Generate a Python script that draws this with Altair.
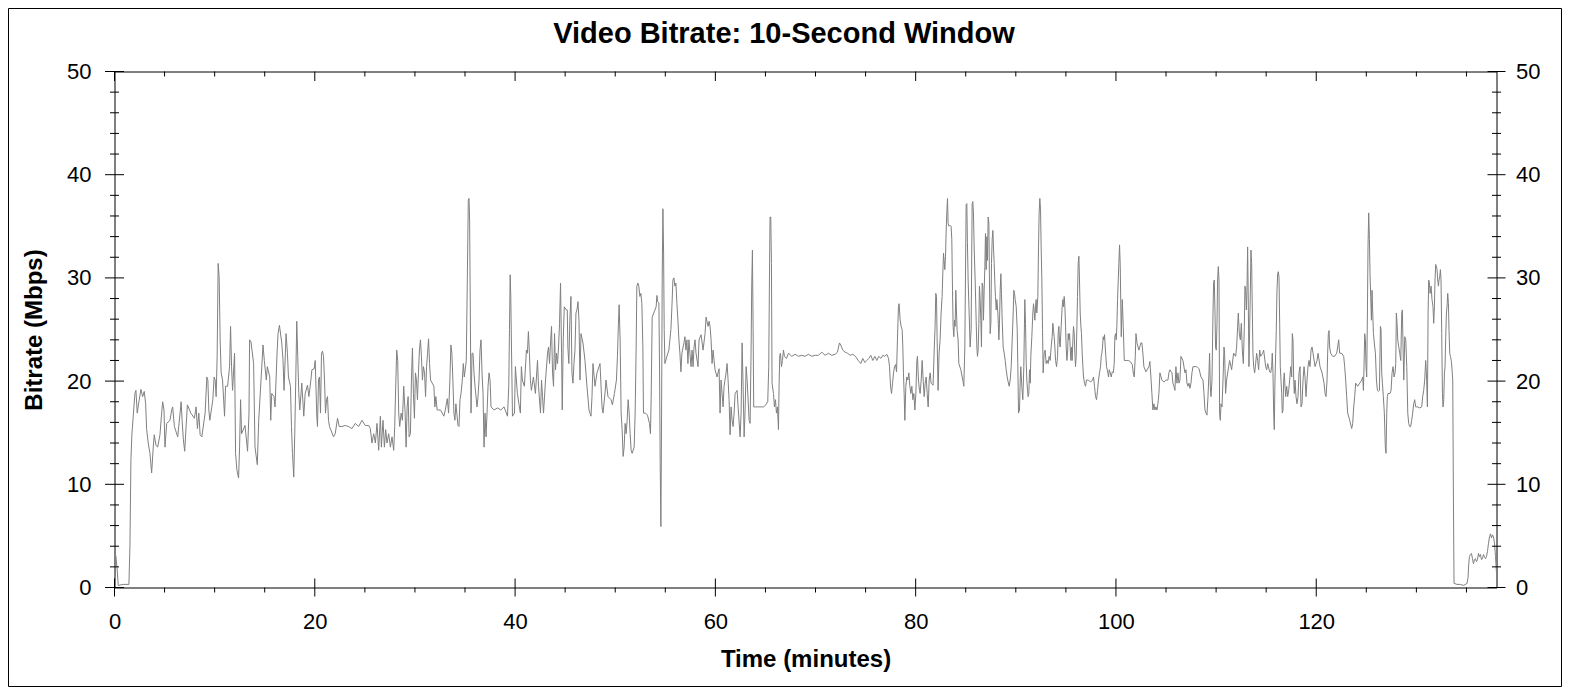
import altair as alt
import pandas as pd

# (minutes, Mbps), one list per 20-minute stretch
seg_00_20 = [
    (0.0, 3.1), (0.13, 3.1), (0.27, 1.7), (0.37, 0.2), (0.87, 0.3), (1.44, 0.3), (1.54, 4.0),
    (1.64, 12.4), (1.74, 14.9), (1.87, 16.6), (2.04, 18.8), (2.14, 19.1), (2.27, 16.9), (2.44, 18.0),
    (2.64, 19.2), (2.81, 18.5), (2.97, 19.0), (3.11, 17.8), (3.21, 15.3), (3.37, 14.0), (3.54, 13.0),
    (3.71, 11.1), (3.87, 13.6), (3.97, 14.8), (4.14, 13.8), (4.31, 13.6), (4.54, 14.8), (4.71, 16.9),
    (4.81, 18.0), (4.94, 17.2), (5.04, 13.6), (5.21, 15.9), (5.54, 16.2), (5.71, 17.2), (5.81, 17.5),
    (5.98, 15.6), (6.31, 14.6), (6.55, 16.9), (6.65, 18.0), (6.75, 16.2), (6.88, 14.3), (7.01, 13.2),
    (7.15, 15.6), (7.28, 17.7), (7.62, 16.9), (7.98, 16.4), (8.15, 17.5), (8.28, 15.4), (8.42, 16.9),
    (8.55, 14.8), (8.72, 14.6), (9.05, 16.9), (9.22, 20.4), (9.32, 20.1), (9.42, 17.2), (9.52, 16.2),
    (9.82, 18.2), (9.95, 20.4), (10.05, 20.1), (10.15, 18.5), (10.25, 22.4), (10.35, 31.4), (10.45, 30.1),
    (10.55, 24.0), (10.65, 20.8), (10.79, 20.1), (10.99, 16.6), (11.09, 19.5), (11.29, 19.5), (11.49, 21.4),
    (11.59, 25.3), (11.69, 21.4), (11.79, 19.1), (11.99, 22.7), (12.09, 13.0), (12.22, 11.4), (12.39, 10.6),
    (12.49, 13.6), (12.59, 18.2), (12.69, 14.9), (13.03, 15.7), (13.29, 13.2), (13.43, 16.9), (13.49, 24.0),
    (13.63, 23.8), (13.89, 21.7), (14.03, 13.6), (14.26, 11.9), (14.40, 16.2), (14.63, 20.1), (14.83, 23.5),
    (14.96, 22.0), (15.16, 20.1), (15.26, 21.4), (15.50, 20.4), (15.60, 16.2), (15.70, 18.8), (15.93, 18.5),
    (16.03, 17.5), (16.23, 22.7), (16.33, 24.6), (16.47, 25.4), (16.70, 23.7), (16.83, 22.0), (16.93, 19.1),
    (17.13, 24.6), (17.27, 22.7), (17.37, 20.4), (17.57, 19.5), (17.67, 15.6), (17.77, 13.0), (17.90, 10.7),
    (18.00, 14.9), (18.10, 20.1), (18.20, 25.8), (18.30, 22.4), (18.40, 18.8), (18.50, 17.2), (18.70, 19.8),
    (18.90, 16.6), (19.04, 18.8), (19.27, 19.6), (19.41, 18.5), (19.61, 20.1), (19.71, 21.1), (19.94, 21.2),
    (20.04, 22.0),
]

seg_20_40 = [
    (20.20, 16.6), (20.27, 15.6), (20.37, 20.1), (20.47, 20.4), (20.57, 16.9), (20.67, 22.7), (20.77, 22.9),
    (20.87, 22.4), (20.97, 20.1), (21.07, 16.9), (21.17, 18.2), (21.27, 18.5), (21.37, 16.2), (21.47, 15.6),
    (21.87, 14.6), (22.04, 14.9), (22.27, 16.4), (22.44, 15.6), (22.71, 15.6), (23.04, 15.7), (23.37, 15.6),
    (23.71, 15.4), (24.04, 15.9), (24.38, 15.6), (24.71, 16.2), (25.04, 15.7), (25.38, 15.7), (25.54, 15.4),
    (25.71, 14.0), (25.88, 14.9), (26.05, 14.0), (26.21, 15.9), (26.38, 13.3), (26.55, 16.6), (26.65, 13.6),
    (26.81, 16.2), (26.95, 13.6), (27.08, 15.3), (27.21, 14.0), (27.38, 14.9), (27.55, 13.6), (27.71, 14.6),
    (27.88, 13.3), (27.98, 15.6), (28.08, 19.5), (28.18, 23.0), (28.28, 22.0), (28.38, 16.9), (28.48, 15.6),
    (28.62, 16.9), (28.75, 16.2), (28.88, 19.5), (29.02, 16.9), (29.12, 13.6), (29.22, 17.5), (29.32, 18.5),
    (29.42, 14.6), (29.55, 14.9), (29.65, 20.1), (29.75, 23.2), (29.85, 18.8), (29.95, 16.4), (30.05, 20.8),
    (30.15, 20.1), (30.25, 18.2), (30.35, 20.8), (30.45, 23.0), (30.55, 24.0), (30.65, 22.4), (30.75, 20.1),
    (30.85, 21.4), (30.96, 20.8), (31.06, 18.5), (31.16, 21.4), (31.26, 22.7), (31.36, 24.1), (31.46, 21.7),
    (31.56, 20.1), (31.89, 19.5), (31.99, 17.5), (32.09, 18.5), (32.22, 17.2), (32.56, 17.2), (32.89, 16.6),
    (33.03, 17.2), (33.23, 18.3), (33.36, 16.9), (33.49, 20.1), (33.59, 23.5), (33.69, 22.7), (33.79, 20.1),
    (33.89, 16.9), (33.99, 16.2), (34.09, 17.8), (34.30, 15.7), (34.40, 15.6), (34.50, 18.2), (34.60, 18.8),
    (34.73, 20.1), (34.83, 21.7), (34.93, 20.4), (35.13, 22.0), (35.23, 29.8), (35.33, 37.5), (35.40, 37.7),
    (35.46, 35.6), (35.53, 26.6), (35.60, 16.9), (35.70, 22.7), (35.80, 22.7), (35.90, 20.8), (36.00, 19.5),
    (36.20, 17.5), (36.30, 18.5), (36.40, 20.1), (36.50, 23.0), (36.60, 24.0), (36.70, 20.8), (36.80, 18.8),
    (36.90, 13.6), (37.00, 16.9), (37.10, 14.6), (37.20, 16.9), (37.30, 19.5), (37.40, 20.8), (37.50, 20.1),
    (37.60, 17.5), (37.90, 17.2), (38.24, 17.4), (38.57, 17.2), (38.90, 17.5), (39.24, 16.6), (39.37, 19.5),
    (39.44, 25.0), (39.51, 30.3), (39.57, 28.2), (39.64, 23.3), (39.74, 16.6), (39.94, 16.9),
]

seg_40_60 = [
    (40.03, 21.4), (40.23, 18.8), (40.43, 17.5), (40.53, 16.9), (40.63, 21.4), (40.73, 20.1), (40.93, 19.5),
    (41.13, 23.0), (41.23, 22.7), (41.33, 24.8), (41.43, 22.7), (41.53, 20.1), (41.63, 19.1), (41.83, 20.4),
    (42.03, 18.8), (42.24, 22.0), (42.34, 19.5), (42.54, 16.9), (42.64, 20.1), (42.74, 18.5), (42.84, 16.9),
    (43.04, 20.1), (43.24, 22.7), (43.34, 23.3), (43.44, 21.7), (43.54, 23.7), (43.64, 25.3), (43.74, 20.8),
    (43.84, 19.5), (43.94, 24.6), (44.04, 21.1), (44.14, 22.7), (44.24, 21.7), (44.34, 23.3), (44.44, 25.6),
    (44.54, 29.5), (44.64, 22.7), (44.71, 17.2), (44.81, 24.0), (44.91, 27.2), (45.11, 26.9), (45.21, 26.9),
    (45.27, 23.3), (45.37, 21.7), (45.47, 25.9), (45.58, 28.2), (45.68, 20.8), (45.78, 19.8), (45.88, 21.7),
    (45.98, 23.0), (46.08, 26.6), (46.18, 26.9), (46.28, 27.7), (46.38, 25.9), (46.48, 20.1), (46.58, 24.6),
    (46.78, 23.7), (46.98, 22.0), (47.18, 19.5), (47.38, 17.2), (47.58, 16.6), (47.68, 18.5), (47.78, 21.7),
    (47.98, 19.5), (48.18, 20.8), (48.48, 21.7), (48.68, 17.5), (48.78, 16.9), (48.98, 18.8), (49.08, 20.1),
    (49.28, 18.5), (49.58, 18.2), (49.72, 17.7), (49.92, 18.8), (50.12, 20.1), (50.22, 22.4), (50.32, 25.6),
    (50.39, 27.4), (50.49, 24.0), (50.59, 16.9), (50.69, 15.3), (50.79, 12.7), (50.89, 13.6), (50.99, 15.9),
    (51.09, 14.9), (51.19, 16.2), (51.29, 18.2), (51.39, 16.9), (51.49, 14.9), (51.59, 13.3), (51.69, 13.0),
    (51.89, 13.6), (51.99, 16.9), (52.09, 23.3), (52.16, 29.2), (52.26, 29.5), (52.36, 29.2), (52.46, 28.2),
    (52.56, 28.5), (52.66, 27.5), (52.76, 23.3), (52.82, 16.9), (53.02, 16.9), (53.22, 16.7), (53.42, 15.9),
    (53.52, 14.9), (53.59, 18.5), (53.69, 26.2), (53.89, 26.7), (54.09, 27.2), (54.16, 28.3), (54.23, 27.7),
    (54.36, 27.6), (54.43, 20.8), (54.49, 12.0), (54.56, 5.9), (54.63, 16.9), (54.69, 29.8), (54.76, 36.7),
    (54.83, 32.4), (54.89, 25.0), (54.96, 21.7), (55.16, 22.4), (55.36, 23.0), (55.56, 25.0), (55.66, 27.2),
    (55.76, 29.8), (55.86, 30.0), (55.96, 29.2), (56.06, 29.5), (56.16, 27.5), (56.26, 25.9), (56.36, 24.0),
    (56.46, 22.7), (56.56, 20.9), (56.66, 22.7), (56.86, 23.7), (56.96, 24.3), (57.06, 23.0), (57.16, 24.0),
    (57.26, 21.7), (57.36, 24.0), (57.46, 22.7), (57.57, 21.4), (57.67, 23.0), (57.77, 21.4), (57.87, 23.3),
    (57.97, 24.0), (58.07, 22.7), (58.27, 21.4), (58.37, 24.0), (58.57, 24.5), (58.77, 23.0), (58.97, 24.6),
    (59.07, 26.2), (59.27, 25.3), (59.37, 25.8), (59.47, 25.3), (59.57, 24.0), (59.67, 21.7), (59.77, 23.0),
    (59.87, 22.0), (59.97, 21.1), (60.17, 20.4), (60.37, 21.2),
]

seg_60_80 = [
    (60.47, 16.9), (60.57, 20.1), (60.77, 17.5), (60.87, 19.5), (61.07, 20.8), (61.17, 21.7), (61.27, 20.1),
    (61.37, 18.2), (61.47, 14.8), (61.57, 17.5), (61.67, 16.2), (61.77, 15.6), (61.87, 16.9), (61.97, 18.8),
    (62.17, 19.1), (62.27, 17.5), (62.47, 14.6), (62.57, 16.9), (62.67, 23.7), (62.77, 19.5), (62.87, 14.6),
    (62.97, 17.2), (63.07, 21.4), (63.17, 20.1), (63.37, 16.2), (63.47, 15.9), (63.57, 23.3), (63.63, 29.2),
    (63.70, 32.7), (63.77, 25.0), (63.83, 17.5), (64.03, 17.5), (64.23, 17.5), (64.43, 17.5), (64.63, 17.5),
    (64.83, 17.5), (65.03, 17.7), (65.23, 18.0), (65.33, 21.4), (65.40, 29.8), (65.46, 35.9), (65.53, 35.9),
    (65.60, 31.4), (65.66, 19.8), (65.80, 18.8), (65.90, 17.5), (66.00, 18.2), (66.10, 16.9), (66.20, 17.5),
    (66.30, 15.3), (66.36, 19.5), (66.43, 22.5), (66.50, 22.7), (66.60, 21.4), (66.70, 22.0), (66.80, 23.0),
    (66.90, 22.4), (67.10, 22.2), (67.30, 22.7), (67.63, 22.4), (67.96, 22.6), (68.29, 22.4), (68.63, 22.5),
    (68.96, 22.4), (69.29, 22.6), (69.63, 22.4), (69.96, 22.5), (70.29, 22.5), (70.63, 22.8), (70.96, 22.5),
    (71.29, 22.7), (71.62, 22.5), (71.96, 22.6), (72.19, 22.8), (72.39, 23.7), (72.52, 23.5), (72.72, 23.0),
    (72.96, 22.8), (73.19, 22.7), (73.46, 22.5), (73.72, 22.6), (73.99, 22.4), (74.26, 22.0), (74.52, 21.7),
    (74.72, 22.2), (74.92, 21.8), (75.12, 22.0), (75.32, 22.2), (75.52, 22.5), (75.72, 22.0), (75.92, 22.4),
    (76.12, 22.0), (76.32, 22.4), (76.52, 22.2), (76.72, 22.5), (76.92, 22.4), (77.12, 22.6), (77.29, 22.2),
    (77.39, 21.4), (77.49, 19.5), (77.59, 18.8), (77.69, 19.8), (77.79, 20.8), (77.89, 21.4), (77.99, 21.6),
    (78.09, 20.9), (78.18, 24.0), (78.28, 27.2), (78.35, 27.5), (78.45, 25.9), (78.55, 25.3), (78.65, 25.0),
    (78.72, 23.3), (78.78, 20.8), (78.85, 18.8), (78.92, 16.2), (79.02, 19.5), (79.12, 20.4), (79.22, 20.1),
    (79.32, 20.8), (79.42, 19.5), (79.52, 18.8), (79.62, 19.5), (79.72, 18.2), (79.82, 18.8), (79.92, 17.2),
    (80.02, 18.8), (80.12, 22.0), (80.18, 22.4), (80.28, 20.1), (80.38, 19.1),
]

seg_80_100 = [
    (80.45, 18.8), (80.55, 20.1), (80.65, 22.0), (80.75, 20.1), (80.85, 18.5), (80.95, 19.8), (81.05, 20.4),
    (81.15, 18.8), (81.25, 17.5), (81.35, 20.1), (81.45, 20.8), (81.54, 19.8), (81.74, 19.6), (81.84, 22.7),
    (81.94, 25.3), (82.01, 28.5), (82.08, 28.2), (82.14, 24.3), (82.24, 19.1), (82.34, 22.7), (82.44, 24.0),
    (82.54, 26.6), (82.64, 28.2), (82.71, 30.4), (82.78, 32.4), (82.84, 31.7), (82.91, 30.8), (82.98, 32.1),
    (83.04, 34.3), (83.11, 36.3), (83.18, 37.7), (83.24, 35.3), (83.34, 35.0), (83.44, 35.1), (83.54, 35.0),
    (83.61, 33.7), (83.68, 28.8), (83.74, 25.3), (83.81, 24.3), (83.88, 25.9), (83.94, 25.3), (84.01, 28.8),
    (84.08, 26.6), (84.14, 24.9), (84.24, 24.0), (84.31, 21.7), (84.51, 21.1), (84.71, 20.1), (84.81, 19.5),
    (84.91, 23.3), (84.97, 29.8), (85.04, 37.1), (85.11, 37.2), (85.17, 33.4), (85.24, 29.8), (85.34, 26.6),
    (85.44, 23.3), (85.54, 25.0), (85.64, 37.2), (85.71, 37.4), (85.77, 36.3), (85.84, 33.0), (85.94, 29.8),
    (86.04, 25.9), (86.11, 23.3), (86.17, 22.4), (86.24, 23.0), (86.31, 25.6), (86.37, 29.2), (86.44, 27.9),
    (86.51, 25.9), (86.57, 23.3), (86.64, 29.5), (86.71, 29.2), (86.77, 25.9), (86.84, 28.8), (86.91, 31.1),
    (86.97, 34.3), (87.04, 30.8), (87.11, 34.0), (87.17, 31.7), (87.24, 35.9), (87.31, 35.3), (87.37, 29.8),
    (87.44, 24.6), (87.51, 25.6), (87.57, 31.4), (87.64, 33.7), (87.71, 34.6), (87.77, 33.0), (87.84, 31.4),
    (87.91, 29.5), (87.97, 28.2), (88.04, 26.9), (88.11, 27.9), (88.21, 26.6), (88.31, 24.0), (88.37, 25.6),
    (88.44, 28.8), (88.51, 30.4), (88.57, 28.5), (88.64, 25.9), (88.74, 23.3), (88.84, 22.7), (88.94, 22.0),
    (89.04, 21.1), (89.14, 20.4), (89.24, 19.9), (89.34, 19.5), (89.44, 20.1), (89.54, 21.4), (89.64, 24.0),
    (89.74, 26.6), (89.80, 28.8), (89.87, 28.5), (89.94, 27.9), (90.04, 27.2), (90.14, 25.0), (90.20, 21.7),
    (90.27, 16.9), (90.37, 17.2), (90.44, 20.1), (90.50, 21.4), (90.60, 19.5), (90.70, 18.2), (90.80, 21.4),
    (90.90, 27.9), (90.97, 25.6), (91.04, 21.7), (91.10, 20.1), (91.17, 19.1), (91.23, 18.5), (91.30, 18.8),
    (91.37, 21.1), (91.44, 19.8), (91.50, 22.4), (91.60, 24.3), (91.70, 26.6), (91.77, 27.5), (91.83, 26.9),
    (91.90, 25.9), (91.97, 27.2), (92.03, 27.9), (92.10, 26.6), (92.20, 28.2), (92.27, 33.0), (92.33, 36.3),
    (92.40, 37.7), (92.47, 36.6), (92.53, 33.0), (92.60, 29.8), (92.67, 25.0), (92.73, 20.8), (92.83, 22.7),
    (92.93, 23.0), (93.03, 21.7), (93.13, 22.0), (93.23, 21.7), (93.33, 22.4), (93.43, 22.0), (93.53, 23.3),
    (93.63, 24.3), (93.70, 25.6), (93.77, 24.9), (93.83, 24.3), (93.90, 23.3), (93.97, 22.0), (94.07, 21.4),
    (94.17, 22.4), (94.23, 24.6), (94.30, 25.3), (94.37, 23.7), (94.43, 23.3), (94.53, 25.3), (94.63, 27.2),
    (94.70, 27.9), (94.77, 27.2), (94.83, 28.2), (94.90, 27.2), (94.97, 25.3), (95.03, 23.3), (95.10, 22.0),
    (95.17, 22.7), (95.23, 24.6), (95.30, 24.0), (95.37, 24.6), (95.43, 23.3), (95.50, 22.0), (95.56, 23.3),
    (95.63, 22.0), (95.70, 24.0), (95.76, 25.3), (95.83, 24.6), (95.90, 22.7), (95.96, 21.4), (96.03, 22.4),
    (96.10, 25.3), (96.16, 28.2), (96.23, 31.4), (96.30, 32.1), (96.36, 29.8), (96.43, 26.6), (96.50, 25.3),
    (96.56, 24.6), (96.63, 22.7), (96.70, 21.4), (96.76, 20.4), (96.86, 19.8), (96.96, 19.5), (97.06, 20.1),
    (97.26, 20.1), (97.46, 19.9), (97.66, 20.1), (97.76, 20.4), (97.86, 19.5), (97.96, 18.5), (98.06, 18.2),
    (98.16, 19.1), (98.26, 20.1), (98.36, 20.8), (98.46, 21.4), (98.53, 22.4), (98.59, 22.7), (98.66, 23.3),
    (98.73, 24.3), (98.79, 24.0), (98.86, 24.5), (98.93, 23.3), (98.99, 22.4), (99.06, 21.4), (99.13, 21.1),
    (99.19, 20.8), (99.26, 20.4), (99.33, 21.1), (99.43, 20.8), (99.53, 20.4), (99.63, 20.9), (99.73, 20.8),
    (99.83, 21.7), (99.89, 24.3), (99.96, 24.6), (100.03, 24.0), (100.09, 25.3), (100.16, 27.9), (100.23, 29.8),
    (100.29, 31.4), (100.36, 33.2), (100.43, 31.1),
]

seg_100_120 = [
    (100.53, 24.3), (100.63, 27.9), (100.73, 25.3), (100.83, 22.0), (101.03, 22.0), (101.23, 22.0),
    (101.43, 21.9), (101.63, 21.6), (101.73, 20.8), (101.83, 20.4), (101.93, 22.4), (102.00, 24.6),
    (102.10, 23.7), (102.29, 23.0), (102.49, 23.7), (102.59, 23.7), (102.69, 22.7), (102.79, 21.4),
    (102.99, 20.9), (103.29, 21.4), (103.39, 21.9), (103.49, 20.4), (103.59, 18.8), (103.69, 17.2),
    (103.79, 17.8), (103.89, 17.2), (103.99, 17.5), (104.09, 17.2), (104.19, 17.8), (104.29, 18.8),
    (104.39, 20.8), (104.59, 20.1), (104.79, 19.9), (104.99, 20.1), (105.19, 20.1), (105.29, 20.8),
    (105.39, 21.1), (105.59, 20.8), (105.69, 19.8), (105.79, 19.5), (105.89, 19.1), (105.99, 21.4),
    (106.09, 19.8), (106.19, 20.8), (106.29, 19.8), (106.39, 20.1), (106.49, 22.4), (106.69, 22.0),
    (106.89, 20.8), (106.99, 21.1), (107.09, 19.8), (107.19, 19.5), (107.29, 19.8), (107.39, 19.3),
    (107.49, 19.8), (107.59, 20.8), (107.69, 21.4), (107.89, 21.4), (108.09, 21.4), (108.29, 21.2),
    (108.49, 20.4), (108.69, 20.1), (108.79, 18.8), (108.89, 17.2), (108.99, 16.9), (109.09, 16.7),
    (109.19, 18.5), (109.29, 20.8), (109.35, 22.7), (109.42, 19.5), (109.49, 18.5), (109.59, 20.1),
    (109.69, 26.6), (109.75, 29.5), (109.82, 29.8), (109.89, 26.6), (109.95, 23.3), (110.02, 23.0),
    (110.09, 25.6), (110.15, 29.8), (110.22, 31.1), (110.29, 29.8), (110.35, 16.9), (110.42, 16.2),
    (110.49, 17.8), (110.59, 17.5), (110.69, 20.1), (110.79, 23.3), (110.85, 22.7), (110.95, 18.8),
    (111.05, 20.1), (111.25, 21.4), (111.35, 22.0), (111.55, 21.1), (111.75, 22.7), (111.95, 22.4),
    (112.05, 23.3), (112.15, 25.3), (112.22, 26.6), (112.32, 24.6), (112.42, 24.0), (112.52, 25.6),
    (112.62, 23.0), (112.72, 21.7), (112.82, 25.3), (112.88, 29.2), (112.95, 28.8), (113.02, 26.9),
    (113.08, 28.8), (113.15, 33.0), (113.22, 27.2), (113.28, 21.4), (113.35, 25.0), (113.42, 28.8),
    (113.48, 32.7), (113.55, 31.4), (113.62, 26.6), (113.68, 22.7), (113.75, 21.4), (113.85, 20.8),
    (113.95, 21.7), (114.05, 22.7), (114.15, 22.0), (114.25, 21.1), (114.35, 23.0), (114.45, 22.4),
    (114.65, 22.7), (114.75, 23.0), (114.95, 21.4), (115.05, 21.1), (115.15, 21.7), (115.35, 20.9),
    (115.45, 20.8), (115.55, 21.4), (115.61, 22.7), (115.68, 20.8), (115.75, 16.9), (115.81, 15.3),
    (115.88, 20.1), (115.95, 22.7), (116.01, 24.9), (116.08, 28.8), (116.15, 30.4), (116.21, 30.6),
    (116.28, 30.1), (116.35, 25.6), (116.41, 21.4), (116.48, 20.1), (116.55, 18.8), (116.61, 16.9),
    (116.68, 17.2), (116.75, 20.1), (116.81, 20.8), (116.88, 19.5), (116.95, 18.5), (117.05, 19.5),
    (117.15, 18.5), (117.25, 19.1), (117.35, 20.1), (117.45, 21.4), (117.55, 20.4), (117.61, 24.6),
    (117.68, 24.0), (117.75, 20.1), (117.81, 18.8), (117.88, 20.1), (117.98, 18.5), (118.08, 17.8),
    (118.18, 18.5), (118.28, 20.8), (118.38, 21.4), (118.48, 17.5), (118.58, 17.8), (118.68, 20.1),
    (118.78, 21.4), (118.88, 20.4), (118.98, 18.5), (119.08, 20.1), (119.18, 21.4), (119.28, 22.0),
    (119.38, 21.4), (119.48, 23.0), (119.58, 23.3), (119.68, 22.7), (119.88, 21.4),
]

seg_120_138 = [
    (120.08, 22.0), (120.18, 22.7), (120.38, 21.4), (120.58, 20.8), (120.78, 19.8), (120.88, 18.8),
    (120.98, 18.5), (121.08, 20.1), (121.14, 22.7), (121.21, 24.6), (121.28, 24.9), (121.34, 23.3),
    (121.44, 22.7), (121.64, 22.4), (121.84, 22.4), (122.04, 22.7), (122.14, 23.3), (122.24, 24.0),
    (122.34, 22.7), (122.54, 22.7), (122.74, 22.4), (122.84, 21.4), (122.94, 20.1), (123.04, 18.5),
    (123.14, 16.9), (123.34, 16.2), (123.54, 15.4), (123.64, 15.9), (123.74, 17.5), (123.84, 18.5),
    (123.94, 19.8), (124.14, 19.5), (124.34, 19.8), (124.54, 20.1), (124.64, 20.4), (124.71, 19.1),
    (124.77, 21.4), (124.84, 24.6), (124.91, 24.0), (124.97, 21.4), (125.04, 20.4), (125.11, 26.6),
    (125.17, 33.0), (125.24, 36.3), (125.31, 33.7), (125.37, 30.4), (125.44, 28.2), (125.51, 25.9),
    (125.57, 28.8), (125.64, 26.6), (125.71, 24.6), (125.84, 23.3), (125.91, 22.7), (126.01, 20.1),
    (126.11, 19.1), (126.21, 19.0), (126.31, 19.1), (126.41, 25.3), (126.47, 25.0), (126.54, 20.8),
    (126.61, 19.8), (126.70, 18.5), (126.80, 16.9), (126.90, 13.6), (126.97, 13.0), (127.04, 16.9),
    (127.10, 18.5), (127.17, 18.8), (127.37, 18.8), (127.47, 19.1), (127.57, 20.8), (127.67, 21.4),
    (127.77, 20.4), (127.87, 20.8), (127.94, 21.7), (128.00, 26.6), (128.07, 25.6), (128.14, 24.0),
    (128.24, 23.3), (128.34, 22.7), (128.44, 22.0), (128.54, 26.6), (128.60, 26.9), (128.67, 23.3),
    (128.74, 20.1), (128.84, 24.3), (128.94, 24.0), (129.04, 21.4), (129.14, 16.9), (129.23, 15.9),
    (129.33, 15.6), (129.43, 15.6), (129.53, 16.2), (129.63, 16.9), (129.73, 17.8), (129.83, 18.2),
    (129.93, 17.5), (130.13, 17.5), (130.33, 17.4), (130.53, 17.5), (130.63, 18.5), (130.73, 19.1),
    (130.83, 20.1), (130.93, 22.0), (131.03, 20.1), (131.10, 17.5), (131.17, 26.6), (131.23, 29.8),
    (131.30, 29.5), (131.37, 28.5), (131.47, 29.2), (131.56, 27.9), (131.66, 27.2), (131.73, 25.6),
    (131.80, 27.2), (131.86, 29.8), (131.93, 31.3), (132.00, 31.1), (132.06, 30.8), (132.13, 29.8),
    (132.20, 29.2), (132.26, 29.8), (132.33, 30.1), (132.40, 30.8), (132.46, 29.8), (132.53, 24.6),
    (132.60, 18.8), (132.66, 17.5), (132.73, 18.2), (132.80, 20.8), (132.86, 21.4), (132.93, 24.3),
    (133.00, 26.6), (133.06, 27.2), (133.13, 28.5), (133.20, 27.5), (133.26, 24.9), (133.33, 22.7),
    (133.40, 22.4), (133.50, 21.9), (133.56, 21.1), (133.63, 20.1), (133.70, 8.2), (133.76, 0.4),
    (134.06, 0.3), (134.40, 0.3), (134.73, 0.2), (135.06, 0.4), (135.16, 1.0), (135.23, 2.3),
    (135.30, 3.0), (135.40, 3.2), (135.50, 3.3), (135.60, 2.8), (135.70, 2.3), (135.80, 2.7),
    (135.90, 2.8), (136.00, 2.5), (136.10, 2.7), (136.20, 3.3), (136.30, 3.0), (136.40, 3.2),
    (136.50, 2.7), (136.60, 2.8), (136.70, 3.2), (136.80, 3.0), (136.90, 2.8), (137.00, 3.0),
    (137.10, 3.5), (137.20, 4.3), (137.30, 4.9), (137.40, 5.2), (137.50, 4.8), (137.60, 5.1),
    (137.70, 4.9), (137.80, 4.3), (137.90, 3.0), (138.00, 1.4),
]

x_major = [0, 20, 40, 60, 80, 100, 120]
x_minor = [m for m in range(5, 140, 5) if m % 20]
y_major = [0, 10, 20, 30, 40, 50]
y_minor = [v for v in range(2, 50, 2) if v % 10]

chart_title = "Video Bitrate: 10-Second Window"

W, H = 1382, 516
FONT = "Liberation Sans, Arial, sans-serif"

points = seg_00_20 + seg_20_40 + seg_40_60 + seg_60_80 + seg_80_100 + seg_100_120 + seg_120_138
df = pd.DataFrame(points, columns=["Time", "Bitrate"])

x_scale = alt.Scale(domain=[0, 138], nice=False, zero=False)
y_scale = alt.Scale(domain=[0, 50], nice=False)

label_style = dict(ticks=False, tickSize=0, domain=False, grid=False, labelFont=FONT,
                   labelFontSize=22, labelColor="black", labelFlush=False)

line = alt.Chart(df).mark_line(color="#808080", strokeWidth=1).encode(
    x=alt.X("Time:Q", scale=x_scale,
            axis=alt.Axis(orient="bottom", values=x_major, format="d", labelPadding=24,
                          title="Time (minutes)", titleFont=FONT, titleFontSize=24,
                          titleFontWeight="bold", titleColor="black",
                          titleX=W / 2, titleY=79, titleAlign="center",
                          titleBaseline="alphabetic", **label_style)),
    y=alt.Y("Bitrate:Q", scale=y_scale,
            axis=alt.Axis(orient="left", values=y_major, format="d", labelPadding=23.5,
                          title="Bitrate (Mbps)", titleFont=FONT, titleFontSize=24,
                          titleFontWeight="bold", titleColor="black",
                          titleX=-73.5, titleY=H / 2, titleAlign="center",
                          titleBaseline="alphabetic", titleAngle=270, **label_style)),
)


def x_ticks(values, y0, y1):
    return alt.Chart(pd.DataFrame({"v": values})).mark_rule(color="black", strokeWidth=1).encode(
        x=alt.X("v:Q", scale=x_scale, axis=None),
        y=alt.value(y0), y2=alt.value(y1))


def y_ticks(values, x0, x1, axis=None):
    return alt.Chart(pd.DataFrame({"v": values})).mark_rule(color="black", strokeWidth=1).encode(
        y=alt.Y("v:Q", scale=y_scale, axis=axis),
        x=alt.value(x0), x2=alt.value(x1))


right_axis = alt.Axis(orient="right", values=y_major, format="d", labelPadding=19,
                      title="", **label_style)

ticks = [
    x_ticks(x_major, H - 9, H + 9),      # bottom, crossing
    x_ticks(x_minor, H, H + 5),          # bottom minor, outward
    x_ticks(x_major, 0, 9.5),            # top, inward
    x_ticks(x_minor, 0, 5),
    y_ticks(y_major, -9.5, 9.5),         # left
    y_ticks(y_minor, -4.5, 4.5),
    y_ticks(y_major, W - 9, W + 9, right_axis),  # right
    y_ticks(y_minor, W - 4.5, W + 4.5),
]

title_mark = alt.Chart(pd.DataFrame({"label": [chart_title]})).mark_text(
    font=FONT, fontSize=29, fontWeight="bold", color="black",
    align="center", baseline="alphabetic"
).encode(x=alt.value(669.5), y=alt.value(-28.2), text="label:N")

frame = alt.Chart(pd.DataFrame({"a": [0]})).mark_rect(
    fillOpacity=0, stroke="black", strokeWidth=1
).encode(x=alt.value(-106), x2=alt.value(1447), y=alt.value(-63), y2=alt.value(615))

chart = alt.layer(line, *ticks, title_mark, frame).resolve_axis(
    x="independent", y="independent"
).properties(
    width=W, height=H,
    autosize=alt.AutoSizeParams(type="none"),
    padding={"left": 106.5, "top": 63.5, "right": 65.5, "bottom": 99.5},
    background="white",
).configure_view(stroke="black", strokeWidth=1)

chart.save("out.html", embed_options={"renderer": "svg", "actions": False})
